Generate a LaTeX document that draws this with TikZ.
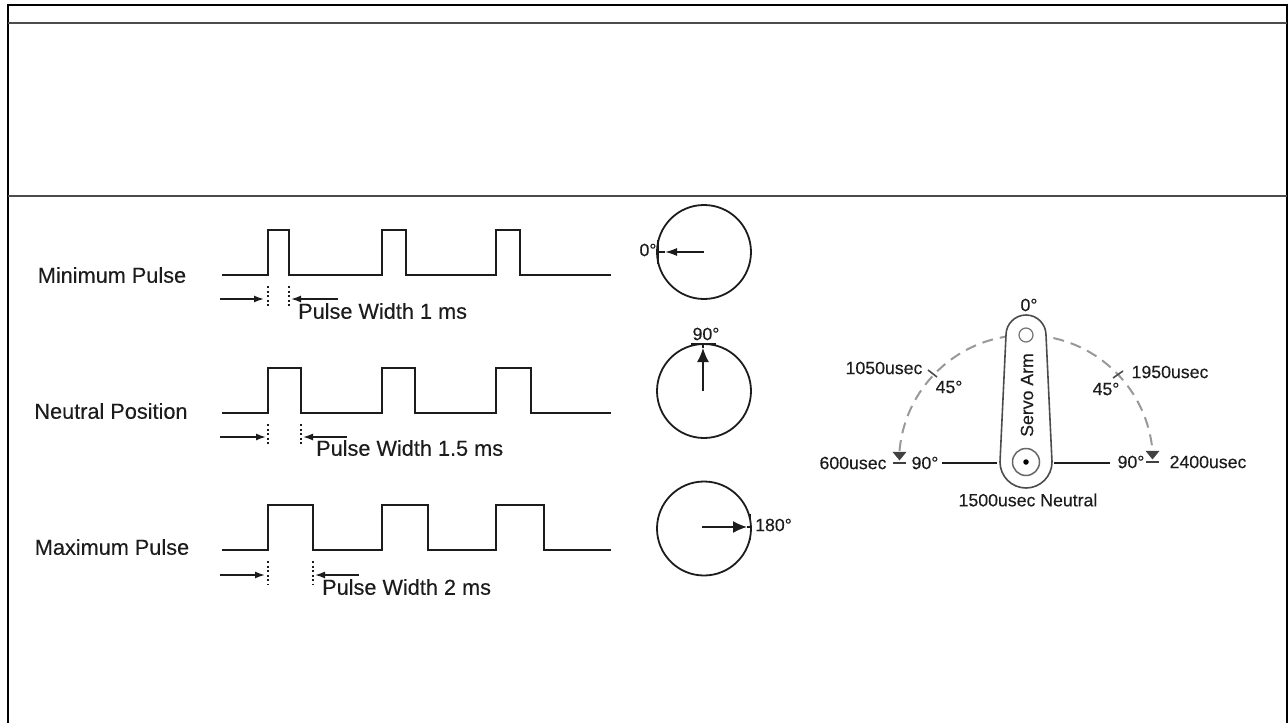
\documentclass[tikz,border=0pt]{standalone}
\usepackage{fontspec}
\setmainfont{Liberation Sans}[FakeBold=0.25]
\usetikzlibrary{arrows.meta}
\definecolor{ink}{HTML}{1C1C1C}
\tikzset{
  x=1pt,y=-1pt,
  wave/.style={draw=ink,line width=2pt,line join=miter},
  frameline/.style={draw=black,line width=2.6pt},
  rule/.style={draw=black!70,line width=1.8pt},
  biglabel/.style={inner sep=0pt,text=ink,font=\fontsize{21.7}{22}\selectfont},
  smalllabel/.style={inner sep=0pt,text=ink,font=\fontsize{17.7}{18}\selectfont},
  guide/.style={draw=ink,line width=1.3pt,dash pattern=on 2pt off 2.5pt},
  measure/.style={draw=ink,line width=1.6pt,-{Latex[length=10pt,width=7pt]}},
  dial/.style={draw=ink,line width=1.8pt},
  tipline/.style={draw=ink,line width=1.6pt},
  pointer/.style={draw=ink,line width=1.6pt,-{Latex[length=14pt,width=12pt]}},
  sweep/.style={draw=black!40,line width=2pt,dash pattern=on 11pt off 7pt},
  armline/.style={draw=black!70,line width=1.6pt},
  bar/.style={draw=ink,line width=2.4pt},
  stop/.style={draw=black!75,fill=black!75,line width=.5pt},
}
\begin{document}
\begin{tikzpicture}
\useasboundingbox (0,0) rectangle (1288,723);
% frame
\draw[frameline] (8,723) -- (8,5) -- (1287,5) -- (1287,723);
\draw[rule] (8,23) -- (1287,23);
\draw[rule] (8,196) -- (1287,196);
% row labels
\node[biglabel] (minlabel) at (112,275) {Minimum Pulse};
\node[biglabel] (neutrallabel) at (111,411) {Neutral Position};
\node[biglabel] (maxlabel) at (112,547) {Maximum Pulse};
% waveforms
\draw[wave] (222,275) -- (268,275) -- (268,230) -- (289,230) -- (289,275) -- (382,275) -- (382,230) -- (406,230) -- (406,275) -- (496,275) -- (496,230) -- (520,230) -- (520,275) -- (611,275);
\draw[wave] (222,413) -- (268,413) -- (268,368) -- (301,368) -- (301,413) -- (382,413) -- (382,368) -- (415,368) -- (415,413) -- (496,413) -- (496,368) -- (531,368) -- (531,413) -- (611,413);
\draw[wave] (222,550) -- (268,550) -- (268,505) -- (313,505) -- (313,550) -- (382,550) -- (382,505) -- (428,505) -- (428,550) -- (496,550) -- (496,505) -- (544,505) -- (544,550) -- (611,550);
% pulse-width guides
\draw[guide] (268,286) -- (268,306);
\draw[guide] (289,286) -- (289,306);
\draw[guide] (268,424) -- (268,444);
\draw[guide] (301,424) -- (301,444);
\draw[guide] (268,561) -- (268,585);
\draw[guide] (313,561) -- (313,585);
% pulse-width arrows
\coordinate (a1l) at (220,299); \coordinate (a1r) at (264,299);
\coordinate (b1l) at (338,299); \coordinate (b1r) at (291,299);
\draw[measure] (a1l) -- (a1r);
\draw[measure] (b1l) -- (b1r);
\coordinate (a2l) at (220,437); \coordinate (a2r) at (266,437);
\coordinate (b2l) at (347,437); \coordinate (b2r) at (303,437);
\draw[measure] (a2l) -- (a2r);
\draw[measure] (b2l) -- (b2r);
\coordinate (a3l) at (220,575); \coordinate (a3r) at (265,575);
\coordinate (b3l) at (359,575); \coordinate (b3r) at (315,575);
\draw[measure] (a3l) -- (a3r);
\draw[measure] (b3l) -- (b3r);
\node[biglabel,anchor=west] (pw1) at (298,311) {Pulse Width 1 ms};
\node[biglabel,anchor=west] (pw2) at (316,448) {Pulse Width 1.5 ms};
\node[biglabel,anchor=west] (pw3) at (322,587) {Pulse Width 2 ms};
% dials
\node[dial,circle,minimum size=94pt,inner sep=0pt] (d1) at (704,252) {};
\node[dial,circle,minimum size=94pt,inner sep=0pt] (d2) at (704,391) {};
\node[dial,circle,minimum size=94pt,inner sep=0pt] (d3) at (704,528.5) {};
\coordinate (d1c) at (704,252); \coordinate (d1t) at (658,252);
\coordinate (d2c) at (703,391); \coordinate (d2t) at (703,345);
\coordinate (d3c) at (702,527); \coordinate (d3t) at (750,527);
\draw[draw=ink,line width=1.6pt,-{Latex[length=12pt,width=8pt]}] (d1c) -- (665,252);
\draw[tipline] (665,252) -- (d1t);
\draw[pointer] (d2c) -- (703,348);
\draw[tipline] (703,348) -- (d2t);
\draw[pointer] (d3c) -- (747,527);
\draw[tipline] (747,527) -- (d3t);
\draw[draw=ink,line width=1.4pt] (658,240) -- (658,264);
\draw[draw=ink,line width=1.4pt] (691,344) -- (716,344);
\draw[draw=ink,line width=1.4pt] (750.5,514) -- (750.5,540);
\node[smalllabel,anchor=center] (deg0) at (648,250) {0°};
\node[smalllabel,anchor=center] (deg90) at (706,334) {90°};
\node[smalllabel,anchor=west] (deg180) at (755,525) {180°};
% servo sweep
\draw[sweep] (899.5,451) arc[start angle=185,end angle=355,radius=127];
\draw[armline,fill=white] (1006,335) arc[start angle=180,end angle=360,radius=20] -- (1052,462) arc[start angle=0,end angle=180,radius=26] -- cycle;
\node[draw=black!55,line width=1.2pt,circle,minimum size=14pt,inner sep=0pt] (pivottop) at (1026,335) {};
\node[draw=black!60,line width=1.5pt,circle,minimum size=27pt,inner sep=0pt] (hub) at (1026,462) {};
\node[fill=black,circle,minimum size=5.5pt,inner sep=0pt] (hubdot) at (1026,462) {};
\node[smalllabel,rotate=90] (arm) at (1027,395) {Servo Arm};
% ticks and stops
\draw[draw=black!70,line width=1.6pt] (928,370) -- (937,377);
\draw[draw=black!70,line width=1.6pt] (1113,378) -- (1123,371);
\draw[stop] (893,452) -- (906,452) -- (899.5,460) -- cycle;
\draw[draw=black!75,line width=2pt] (893,463) -- (906,463);
\draw[stop] (1146,451) -- (1159,451) -- (1152.5,459) -- cycle;
\draw[draw=black!75,line width=2pt] (1146,462) -- (1159,462);
\coordinate (bl1) at (942,463); \coordinate (bl2) at (997,463);
\coordinate (br1) at (1054,463); \coordinate (br2) at (1110,463);
\draw[bar] (bl1) -- (bl2);
\draw[bar] (br1) -- (br2);
% servo labels
\node[smalllabel] (s0) at (1029,305) {0°};
\node[smalllabel] (s1050) at (884,368) {1050usec};
\node[smalllabel] (s45l) at (949,387) {45°};
\node[smalllabel] (s45r) at (1106,389) {45°};
\node[smalllabel] (s1950) at (1170,372) {1950usec};
\node[smalllabel] (s600) at (853,463) {600usec};
\node[smalllabel] (s90l) at (925,463) {90°};
\node[smalllabel] (s90r) at (1131,462) {90°};
\node[smalllabel] (s2400) at (1208,462) {2400usec};
\node[smalllabel] (s1500) at (1028,500) {1500usec Neutral};
\end{tikzpicture}
\end{document}
